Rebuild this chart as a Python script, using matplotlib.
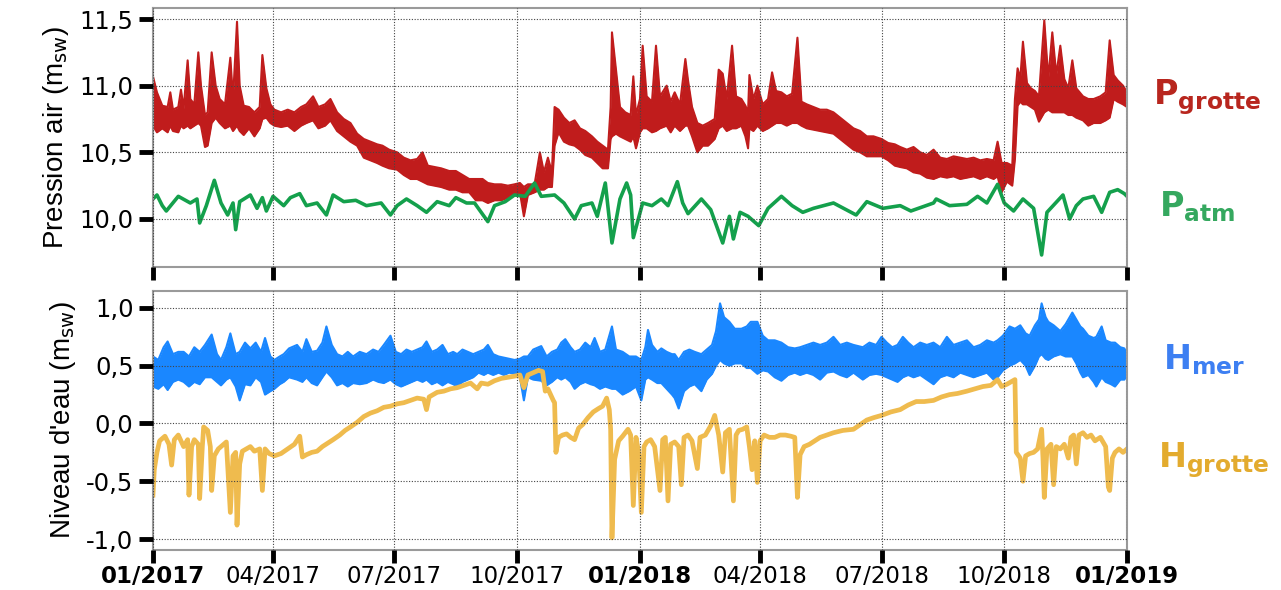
import pandas as pd
import matplotlib
matplotlib.use("Agg")
import matplotlib.pyplot as plt

# ---- data (days since 01/01/2017) ----
p_grotte_day = [0, 3, 7, 11, 13, 15, 19, 21, 23, 26, 28, 31, 34, 36, 39, 41, 44, 47, 50, 54,
                58, 60, 63, 65, 68, 72, 76, 80, 82, 85, 88, 91, 96, 101, 106, 111, 115, 120, 124, 129,
                133, 138, 143, 148, 153, 158, 163, 168, 172, 177, 183, 188, 193, 198, 202, 206, 211, 216, 222, 227,
                232, 237, 242, 247, 251, 256, 261, 266, 271, 275, 278, 281, 286, 290, 293, 296, 299, 301, 304, 308,
                312, 316, 320, 324, 329, 333, 337, 341, 343, 344, 347, 350, 354, 358, 360, 362, 365, 367, 370, 374,
                377, 380, 385, 388, 391, 395, 399, 401, 404, 408, 412, 416, 421, 424, 427, 430, 434, 437, 441, 444,
                446, 447, 450, 453, 457, 461, 464, 467, 471, 475, 479, 483, 486, 490, 495, 500, 505, 510, 515, 520,
                525, 530, 535, 540, 546, 551, 556, 560, 565, 570, 575, 580, 585, 590, 595, 600, 605, 610, 615, 620,
                625, 630, 633, 636, 640, 644, 646, 648, 650, 652, 655, 658, 661, 664, 668, 671, 674, 677, 680, 683,
                686, 689, 692, 697, 701, 705, 710, 714, 717, 720, 723, 727, 730]
p_grotte_lo = [10.70, 10.65, 10.68, 10.65, 10.70, 10.66, 10.65, 10.70, 10.68, 10.70, 10.68, 10.70, 10.72, 10.70, 10.54, 10.55, 10.72, 10.76, 10.72, 10.68,
               10.70, 10.66, 10.70, 10.66, 10.63, 10.68, 10.62, 10.68, 10.75, 10.76, 10.72, 10.70, 10.69, 10.70, 10.66, 10.70, 10.72, 10.74, 10.68, 10.70,
               10.74, 10.66, 10.62, 10.58, 10.55, 10.46, 10.44, 10.42, 10.40, 10.38, 10.37, 10.33, 10.30, 10.30, 10.28, 10.26, 10.25, 10.24, 10.22, 10.22,
               10.20, 10.20, 10.14, 10.14, 10.12, 10.14, 10.14, 10.16, 10.18, 10.20, 10.02, 10.18, 10.20, 10.22, 10.22, 10.24, 10.24, 10.55, 10.65, 10.58,
               10.56, 10.55, 10.52, 10.48, 10.46, 10.42, 10.38, 10.38, 10.60, 10.62, 10.64, 10.62, 10.60, 10.58, 10.62, 10.53, 10.65, 10.68, 10.68, 10.65,
               10.66, 10.68, 10.70, 10.65, 10.70, 10.66, 10.70, 10.70, 10.62, 10.50, 10.55, 10.55, 10.60, 10.68, 10.70, 10.66, 10.68, 10.68, 10.70, 10.62,
               10.53, 10.68, 10.66, 10.70, 10.66, 10.68, 10.70, 10.72, 10.72, 10.70, 10.72, 10.72, 10.70, 10.68, 10.67, 10.66, 10.65, 10.64, 10.60, 10.56,
               10.52, 10.50, 10.47, 10.47, 10.47, 10.44, 10.40, 10.39, 10.38, 10.35, 10.34, 10.31, 10.30, 10.32, 10.31, 10.32, 10.30, 10.31, 10.32, 10.30,
               10.32, 10.30, 10.32, 10.20, 10.28, 10.25, 10.45, 10.85, 10.88, 10.86, 10.86, 10.84, 10.82, 10.73, 10.80, 10.82, 10.80, 10.80, 10.80, 10.80,
               10.78, 10.78, 10.76, 10.74, 10.70, 10.72, 10.72, 10.74, 10.76, 10.90, 10.88, 10.86, 10.84]
p_grotte_hi = [11.07, 10.95, 10.85, 10.84, 10.95, 10.82, 10.84, 10.97, 10.83, 11.19, 10.90, 10.86, 11.25, 11.00, 10.78, 10.80, 11.25, 11.00, 10.90, 10.86,
               11.21, 10.90, 11.48, 11.00, 10.85, 10.84, 10.80, 10.84, 11.23, 10.98, 10.86, 10.82, 10.80, 10.82, 10.80, 10.84, 10.86, 10.92, 10.84, 10.86,
               10.90, 10.80, 10.75, 10.72, 10.64, 10.60, 10.58, 10.56, 10.55, 10.52, 10.50, 10.46, 10.44, 10.45, 10.50, 10.40, 10.39, 10.38, 10.36, 10.36,
               10.33, 10.30, 10.30, 10.30, 10.27, 10.26, 10.26, 10.25, 10.26, 10.27, 10.24, 10.26, 10.26, 10.50, 10.35, 10.46, 10.35, 10.84, 10.82, 10.76,
               10.72, 10.74, 10.68, 10.66, 10.62, 10.58, 10.55, 10.52, 10.84, 11.40, 11.12, 10.84, 10.80, 10.78, 11.07, 10.78, 10.90, 11.30, 10.92, 10.88,
               11.30, 10.92, 11.00, 10.88, 10.95, 10.86, 11.20, 11.04, 10.84, 10.72, 10.70, 10.72, 10.75, 11.12, 11.09, 10.90, 11.30, 10.92, 10.90, 10.85,
               10.80, 11.08, 10.90, 11.00, 10.86, 10.90, 11.10, 10.96, 10.95, 10.92, 10.94, 11.36, 10.88, 10.86, 10.84, 10.82, 10.82, 10.80, 10.76, 10.72,
               10.68, 10.66, 10.62, 10.62, 10.60, 10.57, 10.56, 10.54, 10.52, 10.54, 10.50, 10.48, 10.52, 10.46, 10.45, 10.47, 10.46, 10.45, 10.46, 10.44,
               10.45, 10.44, 10.58, 10.42, 10.42, 10.40, 10.90, 11.13, 11.05, 11.33, 11.02, 10.98, 10.96, 10.92, 11.49, 11.05, 11.40, 11.08, 11.30, 11.05,
               10.98, 11.19, 10.98, 10.92, 10.90, 10.90, 10.92, 10.95, 11.34, 11.08, 11.04, 11.00, 10.95]

p_atm_day = [0, 3, 7, 10, 19, 28, 33, 35, 40, 46, 51, 56, 60, 62, 65, 73, 78, 82, 85, 90,
             98, 103, 110, 115, 123, 130, 135, 143, 152, 160, 171, 178, 183, 190, 198, 205, 213, 222, 227, 235,
             241, 251, 256, 264, 271, 279, 286, 291, 301, 308, 316, 321, 329, 333, 339, 344, 350, 355, 358, 360,
             367, 374, 381, 386, 393, 397, 401, 411, 418, 427, 432, 435, 440, 446, 454, 461, 471, 479, 487, 495,
             510, 527, 535, 547, 560, 568, 585, 587, 597, 610, 618, 625, 633, 638, 645, 652, 660, 666, 670, 682,
             687, 692, 697, 705, 711, 717, 723, 728, 730]
p_atm = [10.15, 10.18, 10.10, 10.06, 10.17, 10.12, 10.15, 9.97, 10.10, 10.29, 10.12, 10.03, 10.12, 9.92, 10.13, 10.18, 10.08, 10.16, 10.06, 10.17,
         10.10, 10.16, 10.19, 10.10, 10.12, 10.03, 10.18, 10.13, 10.14, 10.10, 10.12, 10.03, 10.10, 10.15, 10.10, 10.05, 10.13, 10.10, 10.16, 10.12,
         10.12, 9.98, 10.10, 10.13, 10.18, 10.17, 10.27, 10.17, 10.18, 10.12, 10.00, 10.10, 10.12, 10.02, 10.27, 9.82, 10.15, 10.27, 10.18, 9.86,
         10.12, 10.10, 10.15, 10.10, 10.28, 10.12, 10.04, 10.15, 10.07, 9.82, 10.02, 9.85, 10.05, 10.02, 9.95, 10.08, 10.17, 10.10, 10.05, 10.08,
         10.12, 10.03, 10.13, 10.08, 10.10, 10.06, 10.12, 10.15, 10.10, 10.11, 10.17, 10.12, 10.26, 10.12, 10.06, 10.15, 10.08, 9.73, 10.05, 10.18,
         10.00, 10.10, 10.15, 10.17, 10.05, 10.20, 10.22, 10.19, 10.17]

h_mer_day = [0, 4, 8, 11, 15, 19, 23, 27, 31, 35, 39, 44, 48, 51, 55, 58, 62, 65, 69, 73,
             77, 81, 84, 88, 91, 95, 98, 102, 108, 112, 115, 119, 123, 127, 130, 134, 138, 142, 146, 150,
             155, 160, 165, 169, 173, 178, 182, 186, 190, 194, 198, 202, 205, 209, 213, 217, 221, 225, 228, 232,
             236, 240, 244, 248, 251, 255, 259, 263, 267, 271, 275, 278, 281, 285, 291, 295, 299, 303, 306, 309,
             313, 316, 320, 324, 328, 331, 335, 339, 344, 347, 352, 357, 362, 366, 369, 371, 374, 378, 381, 385,
             389, 391, 394, 398, 402, 406, 411, 415, 419, 422, 425, 428, 432, 436, 441, 445, 448, 453, 457, 461,
             466, 471, 476, 481, 485, 490, 495, 500, 505, 510, 515, 520, 525, 532, 537, 542, 546, 550, 554, 558,
             562, 566, 570, 575, 580, 585, 590, 595, 600, 605, 610, 615, 620, 625, 630, 633, 637, 642, 646, 650,
             654, 657, 661, 664, 666, 669, 671, 675, 680, 684, 689, 692, 695, 697, 701, 705, 707, 711, 714, 718,
             721, 725, 728, 730]
h_mer_lo = [0.32, 0.30, 0.34, 0.29, 0.36, 0.38, 0.36, 0.32, 0.36, 0.34, 0.40, 0.40, 0.36, 0.33, 0.38, 0.40, 0.32, 0.20, 0.34, 0.33,
            0.40, 0.36, 0.25, 0.28, 0.30, 0.34, 0.36, 0.40, 0.38, 0.36, 0.40, 0.35, 0.33, 0.40, 0.45, 0.40, 0.33, 0.35, 0.32, 0.35,
            0.34, 0.35, 0.38, 0.36, 0.35, 0.38, 0.34, 0.32, 0.34, 0.36, 0.38, 0.36, 0.38, 0.34, 0.36, 0.33, 0.36, 0.34, 0.32, 0.36,
            0.38, 0.40, 0.44, 0.42, 0.44, 0.42, 0.44, 0.42, 0.44, 0.43, 0.40, 0.20, 0.40, 0.38, 0.37, 0.33, 0.36, 0.40, 0.38, 0.40,
            0.36, 0.30, 0.34, 0.36, 0.34, 0.33, 0.30, 0.32, 0.30, 0.30, 0.25, 0.28, 0.32, 0.20, 0.38, 0.40, 0.38, 0.35, 0.35, 0.30,
            0.25, 0.22, 0.13, 0.28, 0.32, 0.34, 0.28, 0.38, 0.43, 0.50, 0.55, 0.52, 0.50, 0.52, 0.52, 0.48, 0.48, 0.43, 0.46, 0.45,
            0.40, 0.37, 0.42, 0.44, 0.42, 0.44, 0.42, 0.38, 0.44, 0.45, 0.42, 0.40, 0.44, 0.38, 0.42, 0.43, 0.42, 0.40, 0.38, 0.36,
            0.40, 0.42, 0.40, 0.42, 0.38, 0.34, 0.40, 0.42, 0.40, 0.44, 0.42, 0.40, 0.42, 0.44, 0.38, 0.40, 0.46, 0.50, 0.52, 0.55,
            0.50, 0.42, 0.50, 0.58, 0.60, 0.56, 0.55, 0.58, 0.60, 0.58, 0.58, 0.52, 0.44, 0.40, 0.42, 0.36, 0.32, 0.40, 0.36, 0.34,
            0.32, 0.38, 0.38, 0.42]
h_mer_hi = [0.58, 0.55, 0.66, 0.71, 0.60, 0.62, 0.62, 0.58, 0.66, 0.62, 0.68, 0.77, 0.60, 0.55, 0.66, 0.78, 0.60, 0.62, 0.70, 0.65,
            0.70, 0.62, 0.74, 0.58, 0.55, 0.58, 0.60, 0.65, 0.68, 0.62, 0.73, 0.62, 0.63, 0.70, 0.84, 0.68, 0.60, 0.58, 0.62, 0.58,
            0.62, 0.60, 0.64, 0.62, 0.68, 0.76, 0.62, 0.60, 0.64, 0.62, 0.64, 0.66, 0.71, 0.62, 0.64, 0.68, 0.60, 0.62, 0.60, 0.64,
            0.62, 0.60, 0.62, 0.64, 0.68, 0.60, 0.58, 0.57, 0.56, 0.55, 0.56, 0.58, 0.58, 0.64, 0.67, 0.58, 0.62, 0.64, 0.70, 0.73,
            0.66, 0.62, 0.64, 0.70, 0.66, 0.74, 0.62, 0.64, 0.84, 0.64, 0.62, 0.58, 0.58, 0.55, 0.66, 0.81, 0.68, 0.62, 0.65, 0.62,
            0.60, 0.60, 0.55, 0.62, 0.64, 0.62, 0.60, 0.64, 0.68, 0.80, 1.04, 0.92, 0.88, 0.82, 0.82, 0.84, 0.88, 0.88, 0.76, 0.72,
            0.72, 0.70, 0.66, 0.65, 0.66, 0.68, 0.70, 0.68, 0.70, 0.75, 0.68, 0.70, 0.68, 0.66, 0.70, 0.68, 0.75, 0.70, 0.66, 0.68,
            0.75, 0.70, 0.66, 0.70, 0.68, 0.70, 0.66, 0.75, 0.68, 0.70, 0.72, 0.66, 0.68, 0.72, 0.70, 0.72, 0.76, 0.84, 0.82, 0.85,
            0.78, 0.76, 0.85, 0.90, 1.04, 0.92, 0.88, 0.85, 0.80, 0.86, 0.96, 0.90, 0.84, 0.82, 0.76, 0.74, 0.75, 0.84, 0.72, 0.70,
            0.70, 0.66, 0.65, 0.60]

h_grotte_day = [0, 1, 3, 5, 9, 12, 14, 16, 19, 23, 26, 27, 29, 31, 34, 35, 37, 38, 41, 43,
                44, 46, 49, 53, 55, 58, 60, 62, 63, 65, 67, 70, 73, 76, 80, 82, 84, 87, 91, 96,
                101, 106, 110, 112, 115, 119, 123, 127, 131, 135, 140, 144, 148, 153, 158, 163, 168, 173, 178, 183,
                188, 193, 198, 203, 205, 207, 213, 218, 223, 228, 233, 238, 243, 246, 251, 256, 261, 266, 271, 275,
                278, 281, 285, 289, 292, 294, 296, 298, 300, 301, 302, 304, 307, 310, 313, 316, 319, 322, 326, 330,
                334, 337, 340, 342, 343, 344, 346, 349, 352, 356, 358, 360, 362, 364, 366, 368, 370, 373, 376, 380,
                382, 384, 386, 388, 391, 394, 396, 398, 401, 404, 408, 410, 414, 418, 421, 424, 427, 429, 432, 435,
                437, 439, 442, 445, 447, 449, 451, 453, 455, 458, 462, 466, 470, 474, 478, 481, 483, 485, 488, 492,
                496, 500, 505, 510, 517, 525, 530, 535, 540, 546, 553, 560, 566, 572, 578, 585, 591, 597, 603, 610,
                616, 622, 628, 633, 636, 640, 643, 646, 647, 650, 652, 654, 657, 660, 663, 666, 667, 668, 670, 673,
                675, 677, 680, 683, 686, 688, 690, 692, 694, 697, 700, 703, 706, 710, 714, 716, 717, 719, 721, 724,
                727, 730]
h_grotte = [-0.62, -0.40, -0.25, -0.15, -0.11, -0.18, -0.36, -0.14, -0.10, -0.20, -0.14, -0.62, -0.20, -0.14, -0.18, -0.65, -0.20, -0.03, -0.06, -0.20,
            -0.58, -0.28, -0.22, -0.18, -0.16, -0.77, -0.28, -0.25, -0.88, -0.35, -0.24, -0.22, -0.20, -0.24, -0.22, -0.58, -0.22, -0.26, -0.28, -0.26,
            -0.22, -0.18, -0.11, -0.29, -0.27, -0.25, -0.24, -0.20, -0.17, -0.14, -0.10, -0.06, -0.03, 0.01, 0.06, 0.09, 0.11, 0.14, 0.15, 0.17,
            0.18, 0.20, 0.22, 0.21, 0.12, 0.23, 0.27, 0.28, 0.30, 0.31, 0.33, 0.35, 0.30, 0.35, 0.34, 0.37, 0.39, 0.40, 0.41, 0.42,
            0.31, 0.42, 0.44, 0.46, 0.45, 0.28, 0.30, 0.25, 0.20, 0.18, -0.25, -0.12, -0.10, -0.09, -0.12, -0.14, -0.04, -0.01, 0.05, 0.10,
            0.13, 0.15, 0.22, 0.12, -0.05, -0.99, -0.31, -0.15, -0.11, -0.05, -0.10, -0.71, -0.12, -0.25, -0.77, -0.20, -0.16, -0.14, -0.20, -0.58,
            -0.14, -0.12, -0.67, -0.18, -0.16, -0.20, -0.53, -0.12, -0.10, -0.15, -0.39, -0.12, -0.10, -0.02, 0.07, -0.10, -0.42, -0.08, -0.05, -0.67,
            -0.10, -0.06, -0.05, -0.03, -0.20, -0.40, -0.15, -0.51, -0.15, -0.10, -0.12, -0.12, -0.10, -0.10, -0.11, -0.12, -0.64, -0.27, -0.20, -0.18,
            -0.15, -0.12, -0.10, -0.08, -0.06, -0.05, -0.01, 0.03, 0.05, 0.07, 0.10, 0.12, 0.16, 0.19, 0.19, 0.20, 0.23, 0.25, 0.26, 0.28,
            0.30, 0.32, 0.33, 0.38, 0.32, 0.34, 0.36, 0.38, -0.25, -0.30, -0.50, -0.28, -0.26, -0.25, -0.22, -0.05, -0.30, -0.64, -0.22, -0.18,
            -0.53, -0.20, -0.22, -0.18, -0.30, -0.12, -0.10, -0.35, -0.10, -0.08, -0.12, -0.10, -0.15, -0.12, -0.20, -0.55, -0.58, -0.30, -0.25, -0.22,
            -0.25, -0.22]

quarter_ticks = ['2017-01-01', '2017-04-01', '2017-07-01', '2017-10-01', '2018-01-01',
                 '2018-04-01', '2018-07-01', '2018-10-01', '2019-01-01']
quarter_labels = ['01/2017', '04/2017', '07/2017', '10/2017', '01/2018',
                  '04/2018', '07/2018', '10/2018', '01/2019']
top_yticks = [10.0, 10.5, 11.0, 11.5]
bottom_yticks = [-1.0, -0.5, 0.0, 0.5, 1.0]

start = pd.Timestamp('2017-01-01')


def to_dates(days):
    return start + pd.to_timedelta(days, unit='D')


red = '#c01c1c'
green = '#14a04c'
blue = '#1a87ff'
gold = '#efbb4e'

fig = plt.figure(figsize=(12.81, 5.90), dpi=100)
ax1 = fig.add_axes([0.1194, 0.5475, 0.7604, 0.439])
ax2 = fig.add_axes([0.1194, 0.0678, 0.7604, 0.439])

# top panel: cave air pressure and atmospheric pressure
d = to_dates(p_grotte_day)
ax1.fill_between(d, p_grotte_lo, p_grotte_hi, color=red, lw=0)
ax1.plot(d, p_grotte_lo, color=red, lw=1.5)
ax1.plot(d, p_grotte_hi, color=red, lw=1.5)
ax1.plot(to_dates(p_atm_day), p_atm, color=green, lw=2.6)
ax1.set_ylim(9.64, 11.583)
ax1.set_yticks(top_yticks)
ax1.set_yticklabels([f'{v:.1f}'.replace('.', ',') for v in top_yticks])
ax1.set_ylabel(r'Pression air (m$_{\mathrm{sw}}$)', fontsize=20, family='Liberation Sans',
               labelpad=6)

# bottom panel: sea level and cave water level
d = to_dates(h_mer_day)
ax2.fill_between(d, h_mer_lo, h_mer_hi, color=blue, lw=0)
ax2.plot(d, h_mer_lo, color=blue, lw=1.5)
ax2.plot(d, h_mer_hi, color=blue, lw=1.5)
ax2.plot(to_dates(h_grotte_day), h_grotte, color=gold, lw=3.4)
ax2.set_ylim(-1.095, 1.147)
ax2.set_yticks(bottom_yticks)
ax2.set_yticklabels([f'{v:.1f}'.replace('.', ',') for v in bottom_yticks])
ax2.set_ylabel(r"Niveau d'eau (m$_{\mathrm{sw}}$)", fontsize=20, family='Liberation Sans',
               labelpad=6)

xt = pd.to_datetime(quarter_ticks)
for ax in (ax1, ax2):
    ax.set_xlim(xt[0], xt[-1])
    ax.set_xticks(xt)
    ax.grid(True, color='#444444', ls=(0, (1, 1.5)), lw=0.8)
    ax.set_axisbelow(False)
    for s in ax.spines.values():
        s.set_color('#9a9a9a')
        s.set_linewidth(1.5)
    ax.tick_params(axis='y', direction='out', length=10, width=3.5, color='black',
                   labelsize=17.5, pad=4)
    ax.tick_params(axis='x', direction='out', length=9, width=3.5, color='black',
                   labelsize=16.5, pad=1.5)

ax1.set_xticklabels([])
ax2.set_xticklabels(quarter_labels)
for lab in ax2.get_xticklabels():
    if lab.get_text().startswith('01/'):
        lab.set_fontweight('bold')

# series names on the right
fig.text(0.900, 0.835, r'$\mathbf{P}_{\mathbf{grotte}}$', color='#b8261e', fontsize=24, va='center')
fig.text(0.905, 0.650, r'$\mathbf{P}_{\mathbf{atm}}$', color='#35a85f', fontsize=24, va='center')
fig.text(0.908, 0.390, r'$\mathbf{H}_{\mathbf{mer}}$', color='#3d7ff2', fontsize=24, va='center')
fig.text(0.904, 0.220, r'$\mathbf{H}_{\mathbf{grotte}}$', color='#e3ab2e', fontsize=24, va='center')

fig.savefig('out.png', dpi=100)
